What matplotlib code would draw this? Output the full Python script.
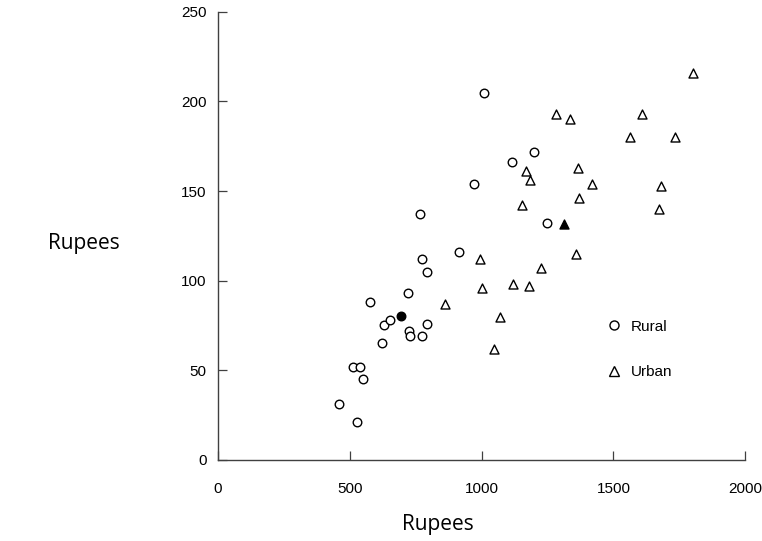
import matplotlib.pyplot as plt
from matplotlib.lines import Line2D

# 数据
rural_x = [458, 527, 512, 540, 551, 576, 623, 629, 652, 720, 726, 729,
           775, 794, 794, 775, 767, 916, 970, 1011, 1116, 1197, 1247]
rural_y = [31, 21, 52, 52, 45, 88, 65, 75, 78, 93, 72, 69,
           69, 76, 105, 112, 137, 116, 154, 205, 166, 172, 132]

urban_x = [863, 995, 1001, 1046, 1070, 1118, 1179, 1226, 1154, 1169, 1184,
           1284, 1335, 1360, 1367, 1371, 1420, 1564, 1608, 1674, 1680, 1732, 1801]
urban_y = [87, 112, 96, 62, 80, 98, 97, 107, 142, 161, 156,
           193, 190, 115, 163, 146, 154, 180, 193, 140, 153, 180, 216]

rural_mean = (693, 80.5)
urban_mean = (1313, 131.6)

x_ticks = [0, 500, 1000, 1500, 2000]
y_ticks = [0, 50, 100, 150, 200, 250]

tick_font = ['Liberation Sans', 'DejaVu Sans']

fig = plt.figure(figsize=(7.62, 5.41), dpi=100)
ax = fig.add_axes([0.286, 0.150, 0.692, 0.828])

ax.scatter(rural_x, rural_y, s=38, marker='o', facecolors='white',
           edgecolors='black', linewidths=1.0, zorder=3)
ax.scatter(urban_x, urban_y, s=42, marker='^', facecolors='white',
           edgecolors='black', linewidths=1.0, zorder=3)
ax.scatter([rural_mean[0]], [rural_mean[1]], s=38, marker='o',
           color='black', zorder=4)
ax.scatter([urban_mean[0]], [urban_mean[1]], s=42, marker='^',
           color='black', zorder=4)

ax.set_xlim(0, 2000)
ax.set_ylim(0, 250)
ax.set_xticks(x_ticks)
ax.set_yticks(y_ticks)

for side in ['top', 'right']:
    ax.spines[side].set_visible(False)
for side in ['left', 'bottom']:
    ax.spines[side].set_color('#404040')
    ax.spines[side].set_linewidth(1.0)

ax.tick_params(axis='both', direction='in', length=6.5, width=0.9,
               color='#404040', labelsize=11)
ax.tick_params(axis='x', pad=16)
ax.tick_params(axis='y', pad=8)
for lab in ax.get_xticklabels() + ax.get_yticklabels():
    lab.set_family(tick_font)

# 坐标轴标题
fig.text(0.575, 0.031, 'Rupees', fontsize=15, family='Open Sans',
         ha='center', va='center')
fig.text(0.110, 0.549, 'Rupees', fontsize=15, family='Open Sans',
         ha='center', va='center')

# 图例
handles = [
    Line2D([], [], marker='o', linestyle='none', markersize=6.5,
           markerfacecolor='white', markeredgecolor='black', markeredgewidth=1.0),
    Line2D([], [], marker='^', linestyle='none', markersize=7,
           markerfacecolor='white', markeredgecolor='black', markeredgewidth=1.0),
]
ax.legend(handles, ['Rural', 'Urban'], loc='center left',
          bbox_to_anchor=(0.736, 0.247), frameon=False, borderpad=0,
          borderaxespad=0, handlelength=1.0, handletextpad=0.6,
          labelspacing=2.05, prop={'family': tick_font, 'size': 11})

fig.savefig('out.png', dpi=100)
